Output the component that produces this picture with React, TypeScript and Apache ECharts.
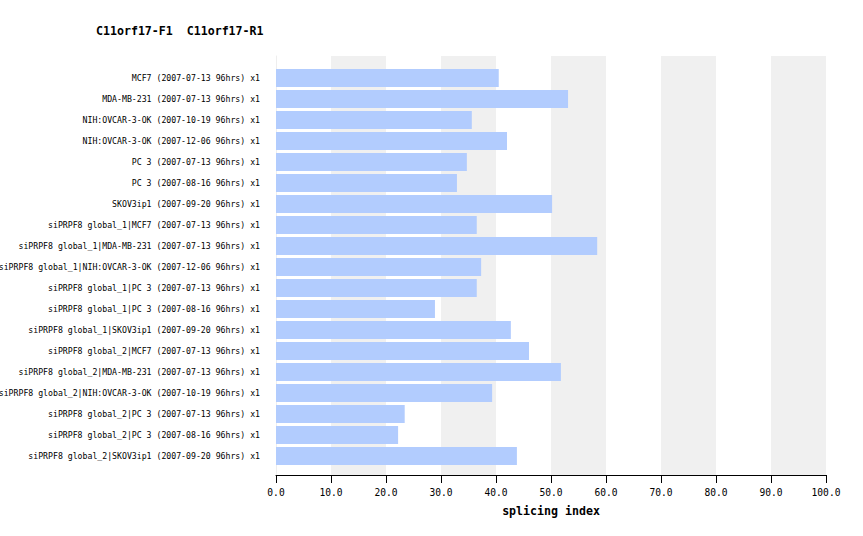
import React, { useEffect, useRef } from "react";
import * as echarts from "echarts";

const categories = [
  "MCF7 (2007-07-13 96hrs) x1",
  "MDA-MB-231 (2007-07-13 96hrs) x1",
  "NIH:OVCAR-3-OK (2007-10-19 96hrs) x1",
  "NIH:OVCAR-3-OK (2007-12-06 96hrs) x1",
  "PC 3 (2007-07-13 96hrs) x1",
  "PC 3 (2007-08-16 96hrs) x1",
  "SKOV3ip1 (2007-09-20 96hrs) x1",
  "siPRPF8 global_1|MCF7 (2007-07-13 96hrs) x1",
  "siPRPF8 global_1|MDA-MB-231 (2007-07-13 96hrs) x1",
  "siPRPF8 global_1|NIH:OVCAR-3-OK (2007-12-06 96hrs) x1",
  "siPRPF8 global_1|PC 3 (2007-07-13 96hrs) x1",
  "siPRPF8 global_1|PC 3 (2007-08-16 96hrs) x1",
  "siPRPF8 global_1|SKOV3ip1 (2007-09-20 96hrs) x1",
  "siPRPF8 global_2|MCF7 (2007-07-13 96hrs) x1",
  "siPRPF8 global_2|MDA-MB-231 (2007-07-13 96hrs) x1",
  "siPRPF8 global_2|NIH:OVCAR-3-OK (2007-10-19 96hrs) x1",
  "siPRPF8 global_2|PC 3 (2007-07-13 96hrs) x1",
  "siPRPF8 global_2|PC 3 (2007-08-16 96hrs) x1",
  "siPRPF8 global_2|SKOV3ip1 (2007-09-20 96hrs) x1",
];

const splicingIndex = [
  40.5, 53.1, 35.6, 42.0, 34.7, 32.9, 50.2, 36.5, 58.4, 37.3, 36.5, 28.9, 42.7,
  46.0, 51.8, 39.3, 23.4, 22.2, 43.8,
];

const titleText = "C11orf17-F1  C11orf17-R1";
const xAxisName = "splicing index";

const MONO = "'DejaVu Sans Mono', monospace";

export default function App() {
  const ref = useRef<HTMLDivElement>(null);
  useEffect(() => {
    document.body.style.margin = "0";
    const chart = echarts.init(ref.current!, null, { renderer: "svg" });
    chart.setOption({
      animation: false,
      backgroundColor: "#ffffff",
      title: {
        text: titleText,
        left: 91,
        top: 20,
        textStyle: {
          fontFamily: MONO,
          fontWeight: "bold",
          fontSize: 11.6,
          color: "#000",
        },
      },
      grid: [
        {
          left: 276,
          right: 37,
          top: 56,
          bottom: 61,
          containLabel: false,
          outerBoundsMode: "none",
        },
        {
          left: 276,
          right: 37,
          top: 67.5,
          height: 399,
          containLabel: false,
          outerBoundsMode: "none",
        },
      ],
      xAxis: [
        {
          gridIndex: 0,
          type: "value",
          min: 0,
          max: 100,
          interval: 10,
          axisLine: { show: true, lineStyle: { color: "#000", width: 1 } },
          axisTick: { show: true, length: 8, lineStyle: { color: "#000" } },
          axisLabel: {
            show: true,
            margin: 12,
            fontFamily: MONO,
            fontSize: 9.6,
            color: "#000",
            formatter: (v: number) => v.toFixed(1),
          },
          splitLine: { show: false },
          splitArea: {
            show: true,
            areaStyle: { color: ["#ffffff", "#f0f0f0"] },
          },
          name: xAxisName,
          nameLocation: "middle",
          nameGap: 30,
          nameTextStyle: {
            fontFamily: MONO,
            fontWeight: "bold",
            fontSize: 11.6,
            color: "#000",
          },
        },
        {
          gridIndex: 1,
          type: "value",
          min: 0,
          max: 100,
          interval: 10,
          show: false,
        },
      ],
      yAxis: [
        {
          gridIndex: 0,
          type: "value",
          min: 0,
          max: 1,
          axisLine: { show: true, lineStyle: { color: "#eeeeee", width: 1 } },
          axisTick: { show: false },
          axisLabel: { show: false },
          splitLine: { show: false },
        },
        {
          gridIndex: 1,
          type: "category",
          inverse: true,
          data: categories,
          axisLine: { show: false },
          axisTick: { show: false },
          axisLabel: {
            margin: 16,
            fontFamily: MONO,
            fontSize: 8.2,
            color: "#000",
          },
          splitLine: { show: false },
        },
      ],
      series: [
        {
          type: "bar",
          xAxisIndex: 1,
          yAxisIndex: 1,
          data: splicingIndex,
          barWidth: 18,
          itemStyle: { color: "#b2ccfe" },
        },
      ],
    });
    return () => chart.dispose();
  }, []);
  return (
    <div
      ref={ref}
      style={{ position: "absolute", left: 0, top: 0, width: 863, height: 536 }}
    />
  );
}
